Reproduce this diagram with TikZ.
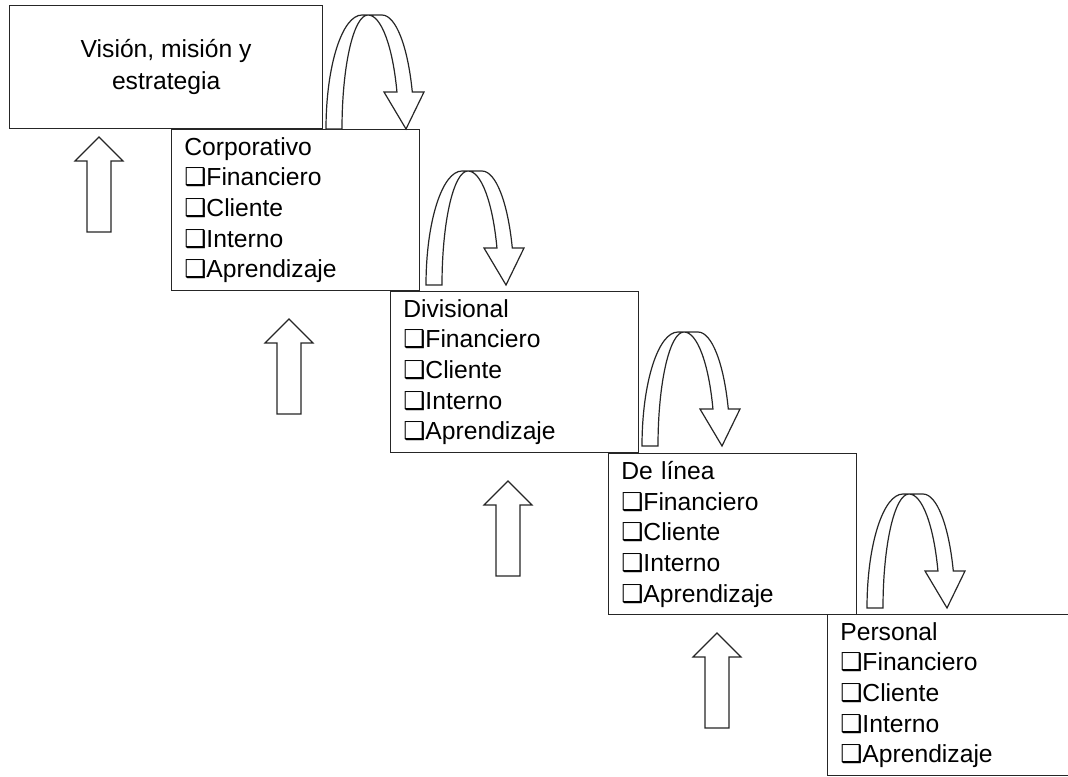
\documentclass[tikz,border=0pt]{standalone}
\usepackage{fontspec}
\setmainfont{Liberation Sans}
\newfontfamily\symfont{DejaVu Sans}
% shadowed check box in front of each perspective
\newcommand\chkbox{{\symfont\char"2751}}

\tikzset{
  outline/.style={draw=black!85, line width=0.9pt, fill=white, line join=miter},
  levelbox/.style={draw=black!85, line width=1pt, fill=white, rectangle,
    anchor=north west, minimum width=186pt, minimum height=120.75pt,
    text width=167pt, inner xsep=9.5pt, inner ysep=0pt, align=left,
    font=\fontsize{18.5}{23}\selectfont},
  topbox/.style={draw=black!85, line width=1pt, fill=white, rectangle,
    anchor=north west, minimum width=234.75pt, minimum height=92.25pt,
    align=center, font=\fontsize{18.5}{24}\selectfont},
  % curved arrow that turns over and points down (origin: outer tail corner)
  turnarrow/.pic={
    \draw[outline] (0,0) .. controls (0,-63) and (16.1,-114) .. (36,-114)
      -- (56,-114) .. controls (69.7,-114) and (81.8,-83) .. (86.3,-37)
      -- (98,-37) -- (80,0) -- (58,-37) -- (70.95,-37)
      .. controls (66.7,-83) and (55.1,-114) .. (42,-114)
      .. controls (27.6,-114) and (16,-63) .. (16,0) -- cycle;
  },
  % block arrow pointing up (origin: tip)
  uparrow/.pic={
    \draw[outline] (0,0) -- (24,24) -- (12,24) -- (12,95) -- (-12,95)
      -- (-12,24) -- (-24,24) -- cycle;
  }
}

\begin{document}
\begin{tikzpicture}[x=0.75pt,y=-0.75pt]
  \useasboundingbox (0,0) rectangle (1068,776);
  \clip (0,0) rectangle (1068,776);

  % levels of the scorecard cascade
  \node[topbox] (vision) at (9,5) {Visión, misión y\\estrategia};
  \node[levelbox] (corp) at (171,129)
    {Corporativo\\\chkbox Financiero\\\chkbox Cliente\\\chkbox Interno\\\chkbox Aprendizaje};
  \node[levelbox] (div) at (390,291)
    {Divisional\\\chkbox Financiero\\\chkbox Cliente\\\chkbox Interno\\\chkbox Aprendizaje};
  \node[levelbox] (linea) at (608,453)
    {De línea\\\chkbox Financiero\\\chkbox Cliente\\\chkbox Interno\\\chkbox Aprendizaje};
  \node[levelbox] (pers) at (827,614)
    {Personal\\\chkbox Financiero\\\chkbox Cliente\\\chkbox Interno\\\chkbox Aprendizaje};

  % downward cascade
  \pic (turn1) at (326,129) {turnarrow};
  \pic (turn2) at (426,285) {turnarrow};
  \pic (turn3) at (642,446) {turnarrow};
  \pic (turn4) at (867,608) {turnarrow};

  % upward feedback
  \pic (up1) at (99,137) {uparrow};
  \pic (up2) at (289,319) {uparrow};
  \pic (up3) at (508,481) {uparrow};
  \pic (up4) at (717,633) {uparrow};
\end{tikzpicture}
\end{document}
